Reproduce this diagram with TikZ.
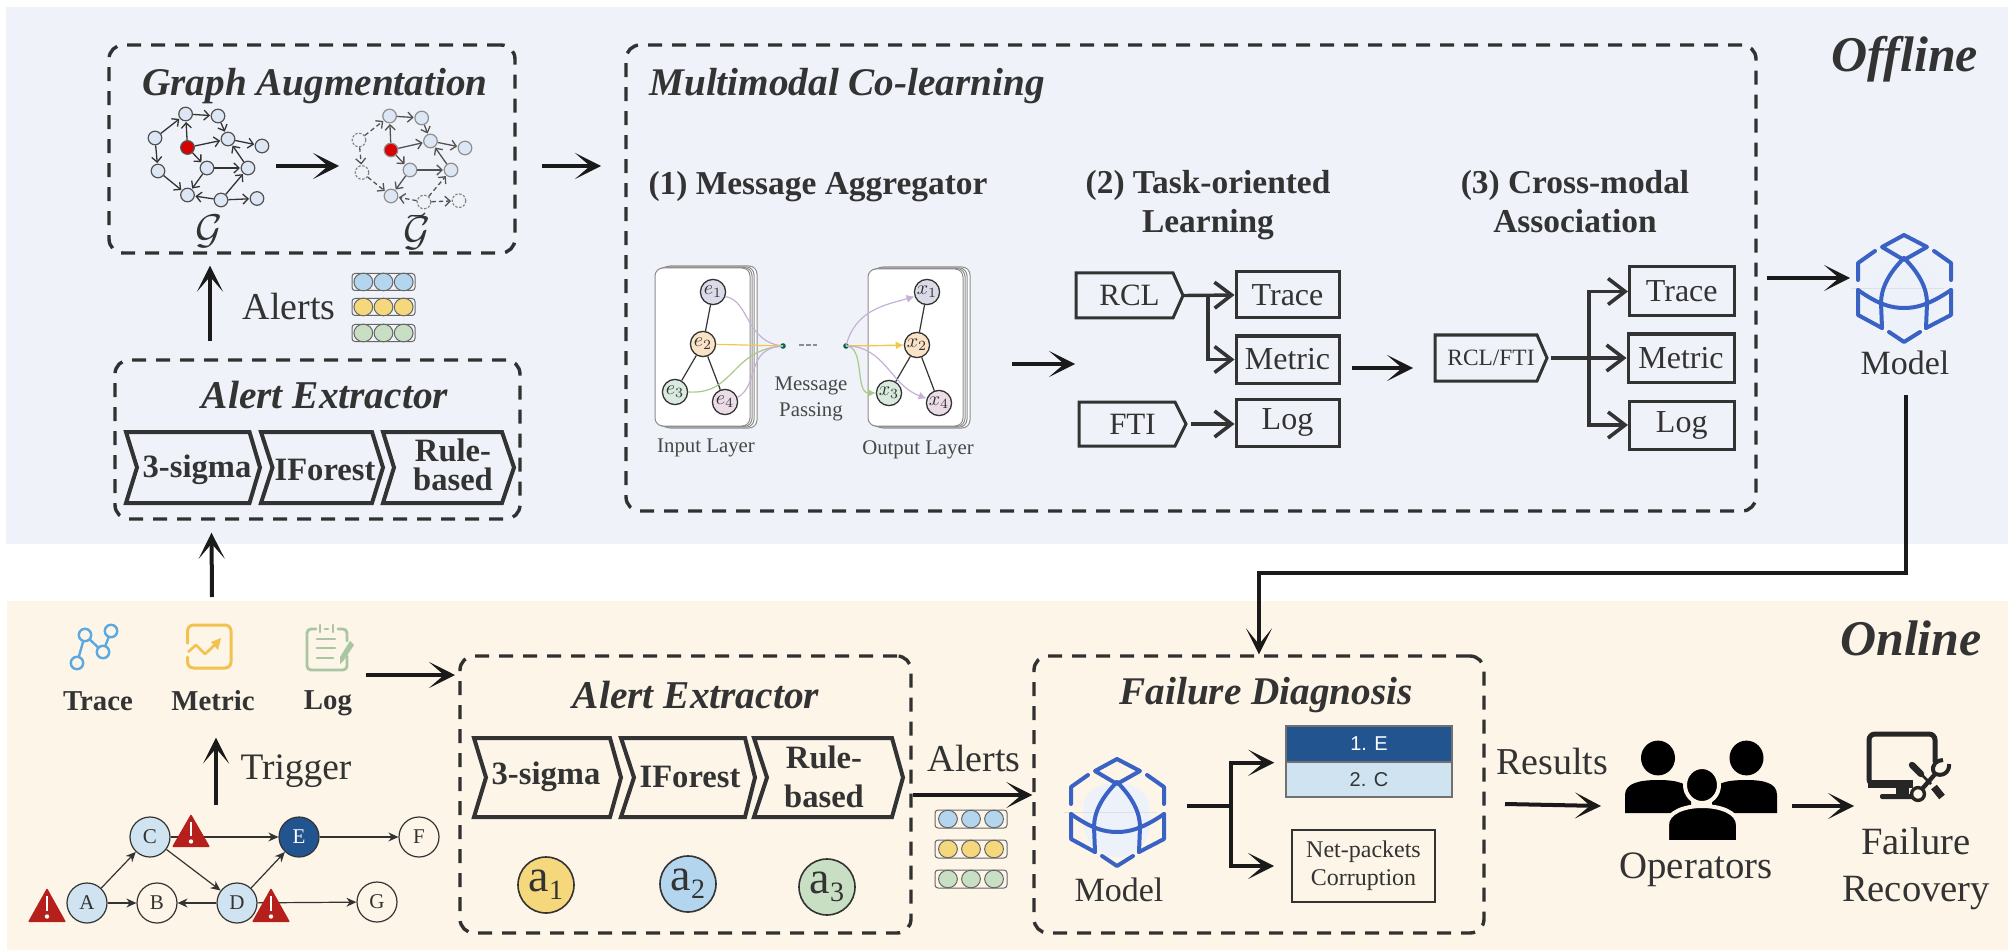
\documentclass[tikz,border=0pt]{standalone}
\usepackage{fontspec}
\setmainfont{Liberation Serif}
\setsansfont{Liberation Sans}
\usetikzlibrary{arrows.meta,fit,calc}
\definecolor{offbg}{HTML}{EFF3F9}
\definecolor{onbg}{HTML}{FDF5E8}
\definecolor{ink}{HTML}{333333}
\definecolor{blk}{HTML}{1A1A1A}
\definecolor{iconblue}{HTML}{3A62C4}
\definecolor{alblue}{HTML}{B3D6EE}
\definecolor{alyel}{HTML}{F6D87C}
\definecolor{algrn}{HTML}{C8DFC4}
\definecolor{redtri}{HTML}{B5201C}
\definecolor{navy}{HTML}{22548F}
\definecolor{pal}{HTML}{D0E3F0}
\definecolor{cpur}{HTML}{C8AFD5}
\definecolor{cyel}{HTML}{F0C84A}
\definecolor{cgrn}{HTML}{A8C98A}
\definecolor{icontrace}{HTML}{5BA9E0}
\definecolor{iconyel}{HTML}{F2C14E}
\definecolor{icongrn}{HTML}{A8C6A2}
\definecolor{monk}{HTML}{262626}
\definecolor{gfill}{HTML}{DCE6F4}
\definecolor{eone}{HTML}{DADAE8}
\definecolor{etwo}{HTML}{FBE3C8}
\definecolor{ethree}{HTML}{D9EBDF}
\definecolor{efour}{HTML}{ECDCE8}
\newcommand{\fsz}[1]{\fontsize{#1}{#1}\selectfont}
\tikzset{
  x=0.5pt,y=-0.5pt,
  every node/.style={text=ink},
  dbox/.style={draw=blk!90,line width=1.7pt,dash pattern=on 7pt off 5pt,rounded corners=7pt,inner sep=0pt},
  titletext/.style={font=\bfseries\itshape\fsz{19.6},inner sep=0pt},
  boldtext/.style={font=\bfseries\fsz{16.7},inner sep=0pt,align=center},
  plain/.style={inner sep=0pt,align=center},
  tbox/.style={draw=ink,line width=1.5pt,inner sep=0pt},
  pentline/.style={draw=ink,line width=1.5pt,line join=miter},
  chevline/.style={draw=ink,line width=2pt,line join=miter},
  chevtext/.style={font=\bfseries\fsz{16.3},inner sep=0pt,align=center},
  bigarrow/.style={blk,line width=2pt,-{Stealth[length=13pt,width=13pt,inset=7.5pt]}},
  thinbig/.style={blk,line width=1.7pt,-{Stealth[length=13pt,width=13pt,inset=8pt]}},
  barb/.style={ink,line width=1.7pt,-{Straight Barb[length=8.5pt,width=13pt,line width=1.8pt]}},
  gnode/.style={circle,draw=ink!85,fill=#1,line width=0.6pt,minimum size=6.8pt,inner sep=0pt},
  gtip/.style={draw=ink,line width=0.65pt,-{Straight Barb[length=2.6pt,width=5pt,line width=0.65pt]},shorten >=0.3pt},
  mnode/.style={circle,draw=ink,fill=#1,line width=0.65pt,minimum size=12.6pt,inner sep=0pt,font=\fsz{10}},
  snode/.style={circle,draw=ink,fill=#1,line width=0.6pt,minimum size=20pt,inner sep=0pt,font=\fsz{10.5}},
  stip/.style={draw=ink,line width=0.6pt,-{Stealth[length=5pt,width=4.5pt]}},
  modelpic/.pic={
    \fill[iconblue!9,rounded corners=8pt] (-34,-20) -- (0,-32) -- (32,-20) -- (33,30) -- (0,50) -- (-33,30) -- cycle;
    \draw[black!12,line width=0.4pt] (-53,0) -- (40,0);
    \begin{scope}[iconblue,line width=2pt,line cap=round,line join=round]
      \draw (0,-53) -- (23,-41) -- (0,-28) -- (-22,-41) -- cycle;
      \draw (0,-30) .. controls (-15,-15) and (-23,0) .. (-23,15) -- (-22,40);
      \draw (0,-30) .. controls (15,-15) and (23,0) .. (23,15) -- (22,40);
      \draw (-46,2) .. controls (-25,17) and (-12,20) .. (0,20) .. controls (12,20) and (25,17) .. (47,2);
      \draw (-46,2) -- (-46,27) -- (-22,40);
      \draw (47,2) -- (47,27) -- (22,40);
      \draw (-29,-37) -- (-46,-25) -- (-46,-8);
      \draw (30,-37) -- (47,-25) -- (47,-8);
      \draw (-15,44) -- (0,54) -- (16,44);
    \end{scope}
  }
}
% chevron: name xl notch rtop tip y1 y2 cx cy text
\newcommand{\chev}[9]{%
  \draw[chevline] (#2,#6) -- (#4,#6) -- (#5,{(#6+#7)/2}) -- (#4,#7) -- (#2,#7) -- (#3,{(#6+#7)/2}) -- cycle;
  \node[chevtext] (#1) at (#8,#9)}
% pentagon: name x1 shoulder tip y1 y2 fontsize text
\newcommand{\pent}[8]{%
  \draw[pentline] (#2,#5) -- (#3,#5) -- (#4,{(#5+#6)/2}) -- (#3,#6) -- (#2,#6) -- cycle;
  \node[fit={(#2,#5)(#4,#6)},inner sep=0pt] (#1) {};
  \node[plain,font=\fsz{#7}] (#1t) at (#1.center) {#8};}
% box with centred text: name x1 y1 x2 y2 text
\newcommand{\lbox}[6]{%
  \node[tbox,fit={(#2,#3)(#4,#5)}] (#1) {};
  \node[plain,font=\fsz{16}] (#1t) at (#1.center) {#6};}
% alert stack: xl xr y1 y2 y3 h
\newcommand{\alertstack}[6]{%
  \foreach \yy/\cc in {#3/alblue,#4/alyel,#5/algrn}{
    \draw[black!60,line width=0.5pt,rounded corners=1.5pt] (#1,\yy-#6/2) rectangle (#2,\yy+#6/2);
    \foreach \ff in {0.18,0.5,0.82}{
      \draw[black!60,fill=\cc,line width=0.5pt] ({#1+\ff*(#2-#1)},\yy) ellipse (4.7pt and 4.4pt);
    }
  }}
\newcommand{\warn}[3]{%
  \fill[redtri,rounded corners=0.5pt] (#1,#2) -- (#1+19,#3) -- (#1-19,#3) -- cycle;
  \draw[white,line width=1.1pt] (#1,#2+8) -- (#1,#3-11);
  \fill[white] (#1,#3-5.5) circle (1.1pt);}
\begin{document}
\begin{tikzpicture}
\useasboundingbox (0,0) rectangle (2008,952);
\fill[white] (0,0) rectangle (2008,952);
\fill[offbg] (6,7) rectangle (2008,544);
\fill[onbg] (7,601) rectangle (2008,950);

% ---------- labels
\node[font=\bfseries\itshape\fsz{25},inner sep=0pt] (offl) at (1905,59) {Offline};
\node[font=\bfseries\itshape\fsz{25},inner sep=0pt] (onl) at (1911,638) {Online};

% ---------- Graph Augmentation
\node[dbox,fit={(109,45)(515,253)}] (ga) {};
\node[titletext] (gat) at (315,86) {Graph Augmentation};
\foreach \n/\x/\y in {1/185.6/114,2/218/116,3/155/138,4/228/139,5/262/146,6/207/168,7/248/168,8/158/171,9/187.5/195,10/221/200,11/257/198.5}
  \node[gnode=gfill] (g\n) at (\x,\y) {};
\node[gnode=red!85!black] (gr) at (187.5,147.5) {};
\foreach \a/\b in {g3/g1,g1/g2,g2/g4,gr/g1,gr/g4,gr/g6,g4/g5,g7/g4,g6/g7,g6/g9,g3/g8,g8/g9,g10/g9,g10/g11,g10/g7}
  \draw[gtip] (\a) -- (\b);
\node[font=\fsz{21}] (gl) at (209,231) {$\mathcal{G}$};
% augmented
\foreach \n/\x/\y in {1/389.6/116,2/421.7/118,4/430.5/141,5/465/148,6/410/170,7/451/170,9/391/196}
  \node[gnode=gfill,draw=ink!55] (t\n) at (\x,\y) {};
\foreach \n/\x/\y in {3/359/140,8/362/172.5,10/424/202,11/459/200.7}
  \node[gnode=offbg,draw=ink!60,dash pattern=on 1.2pt off 0.8pt] (t\n) at (\x,\y) {};
\node[gnode=red!85!black,draw=ink!55] (tr) at (391,150) {};
\foreach \a/\b in {t1/t2,t2/t4,tr/t1,tr/t4,tr/t6,t4/t5,t7/t4,t6/t7,t6/t9}
  \draw[gtip,draw=ink!85] (\a) -- (\b);
\foreach \a/\b in {t3/t1,t3/t8,t8/t9,t10/t9,t10/t11,t10/t7}
  \draw[gtip,draw=ink!85,dash pattern=on 2.2pt off 1.5pt] (\a) -- (\b);
\node[font=\fsz{21}] (tl) at (417,233) {$\mathcal{G}$};
\draw[ink,line width=0.7pt] (408,218) .. controls (412,212) and (420,220) .. (425,213);
\coordinate (gs) at (276,166);
\coordinate (ge) at (339,166);
\draw[bigarrow] (gs) -- (ge);

% ---------- Alert extractor offline
\node[dbox,fit={(115,360)(520,519)}] (ae) {};
\node[titletext,font=\bfseries\itshape\fsz{19.7}] (aet) at (325,395) {Alert Extractor};
\chev{ca}{126}{137}{249.5}{260}{432}{503}{197}{470}{3-sigma};
\chev{cb}{261}{272.5}{372}{383}{432}{503}{325}{470}{IForest};
\chev{cc}{383}{394}{502}{514}{432}{503}{453}{465}{Rule-\\[-2pt]based};
\node[plain,font=\fsz{19}] (alo) at (289,307) {Alerts};
\alertstack{352}{415}{282}{307}{333}{17}
\coordinate (aup) at (210,341);
\draw[bigarrow] (aup) -- ([xshift=-51pt,yshift=-5.5pt]ga.south);
\coordinate (iup) at (212,597);
\draw[bigarrow] (iup) -- ([xshift=-53pt,yshift=-6pt]ae.south);

% ---------- Multimodal
\node[dbox,fit={(626,45)(1756,511)}] (mc) {};
\node[titletext,anchor=west] (mct) at (649,86) {Multimodal Co-learning};
\coordinate (gaout) at (541.5,166);
\coordinate (mcin) at (601,166);
\draw[bigarrow] (gaout) -- (mcin);
\node[boldtext] (h1) at (818,187) {(1) Message Aggregator};
\node[boldtext] (h2) at (1208,205) {(2) Task-oriented\\[2.5pt]Learning};
\node[boldtext] (h3) at (1575,205) {(3) Cross-modal\\[2.5pt]Association\vphantom{g}};

% cards
\foreach \dx/\dy in {7/-2,4/-1.2,2/-0.5}{
  \draw[black!45,fill=white,line width=0.5pt,rounded corners=4pt] (655+\dx,268+\dy) rectangle (750+\dx,426-\dy);
  \draw[black!45,fill=white,line width=0.5pt,rounded corners=4pt] (868+\dx,269+\dy) rectangle (963+\dx,426-\dy);
}
\node[fit={(655,268)(750,426)},draw=black!45,fill=white,line width=0.5pt,rounded corners=4pt,inner sep=0pt] (c1) {};
\node[fit={(868,269)(963,426)},draw=black!45,fill=white,line width=0.5pt,rounded corners=4pt,inner sep=0pt] (c2) {};
\fill[black!60!blue!60!green] (783,346) circle (1.4pt) coordinate (dl);
\fill[black!60!blue!60!green] (846,346) circle (1.4pt) coordinate (dr);
\node[mnode=eone] (e1) at (713,292) {$e_1$};
\node[mnode=etwo] (e2) at (703,344) {$e_2$};
\node[mnode=ethree] (e3) at (675,392) {$e_3$};
\node[mnode=efour] (e4) at (725,402) {$e_4$};
\node[mnode=eone] (x1) at (927,292) {$x_1$};
\node[mnode=etwo] (x2) at (917,345) {$x_2$};
\node[mnode=ethree] (x3) at (889,393) {$x_3$};
\node[mnode=efour] (x4) at (939,403) {$x_4$};
\foreach \a/\b in {e1/e2,e2/e3,e2/e4,x1/x2,x2/x3,x2/x4}
  \draw[ink,line width=0.6pt] (\a) -- (\b);
\draw[cpur,line width=0.6pt] (e1.-20) .. controls (750,301) and (745,342) .. (dl);
\draw[cyel,line width=0.6pt] (e2) -- (dl);
\draw[cgrn,line width=0.6pt] (e3.east) .. controls (735,395) and (730,350) .. (dl);
\draw[cpur,line width=0.6pt] (e4.20) .. controls (760,385) and (745,348) .. (dl);
\draw[black!45,line width=0.6pt,dash pattern=on 2.5pt off 1pt] (799,345) -- (817,345);
\draw[cpur,line width=0.6pt,-{Latex[length=4pt,width=4pt]}] (dr) .. controls (855,310) and (885,305) .. (x1.-160);
\draw[cyel,line width=0.7pt,-{Latex[length=4pt,width=4pt]}] (dr) -- (x2);
\draw[cgrn,line width=0.6pt,-{Latex[length=4pt,width=4pt]}] (dr) .. controls (865,346) and (855,393) .. (x3.west);
\draw[cpur,line width=0.6pt,-{Latex[length=4pt,width=4pt]}] (dr) .. controls (885,346) and (890,385) .. (x4.160);
\node[plain,font=\fsz{10.4},text=ink!90] (mp) at (811,399) {Message\\[3pt]Passing};
\node[plain,font=\fsz{10.4},text=ink!90] (il) at (706,448) {Input Layer};
\node[plain,font=\fsz{10.4},text=ink!90] (ol) at (918,450) {Output Layer};

% task-oriented
\coordinate (ma) at (1012,364);
\coordinate (mb) at (1075,364);
\draw[bigarrow] (ma) -- (mb);
\pent{rcl}{1076}{1173}{1183}{273}{318}{15.5}{RCL}
\pent{fti}{1079}{1175}{1186}{402}{446}{15.5}{FTI}
\lbox{tr1}{1236}{272}{1339}{318}{Trace}
\lbox{me1}{1236}{336}{1339}{383}{Metric}
\lbox{lg1}{1236}{399}{1339}{446}{Log}
\coordinate (j1) at (1208,295);
\draw[barb] (rcl.east) -- (tr1.west);
\draw[barb] (j1) |- (me1.west);
\draw[barb] ([xshift=2.5pt]fti.east) -- (fti.east -| lg1.west);
% cross modal
\coordinate (mc1) at (1352,368);
\coordinate (mc2) at (1413,368);
\draw[bigarrow] (mc1) -- (mc2);
\pent{rf}{1435}{1537}{1547}{335}{381}{11.7}{RCL/FTI}
\lbox{tr2}{1629.5}{267}{1734}{316}{Trace}
\lbox{me2}{1628}{334}{1734}{382}{Metric}
\lbox{lg2}{1629.5}{401}{1734}{449}{Log}
\coordinate (j2) at (1589,358);
\draw[barb] ([xshift=2pt]rf.east) -- (rf.east -| me2.west);
\draw[barb] (j2) |- (tr2.west);
\draw[barb] (j2) |- (lg2.west);

% model offline
\pic (m1) at (1904,288) {modelpic};
\node[plain,font=\fsz{17}] (ml1) at (1905,363) {Model};
\coordinate (mo1) at (1767,278);
\coordinate (mo2) at (1850,278);
\draw[bigarrow] (mo1) -- (mo2);

% ---------- Online inputs
\begin{scope}[line width=1.2pt]
  \draw[draw=icontrace] (77,663) -- (85,635) -- (103,652) -- (111,631);
  \foreach \p in {(77,663),(85,635),(103,652),(111,631)}
    \draw[draw=icontrace,fill=onbg] \p circle (3.1pt);
\end{scope}
\draw[iconyel,line width=1.5pt,line cap=round,rounded corners=3pt] (187.5,643) -- (187.5,625) -- (231,625) -- (231,668) -- (187.5,668) -- (187.5,657);
\draw[iconyel,line width=1.3pt,line join=round] (188,652) -- (196,645) -- (205,654) -- (219,641);
\fill[iconyel] (221,638) -- (218,650) -- (211,642) -- cycle;
\draw[icongrn,line width=1.4pt,line cap=round,rounded corners=2pt] (316,629) -- (307,629) -- (307,670) -- (347,670) -- (347,656);
\draw[icongrn,line width=1.4pt,line cap=round,rounded corners=2pt] (347,641) -- (347,629) -- (338,629);
\draw[icongrn,line width=1.3pt,line cap=round] (320,625) -- (320,632) (333,625) -- (333,632) (325,629) -- (328,629);
\draw[icongrn,line width=1.4pt,line cap=round] (317,639) -- (335,639) (317,648) -- (335,648) (317,658) -- (333,658);
\fill[icongrn] (350,641) -- (354,645) -- (344,660) -- (340,664) -- (340,657) -- cycle;
\node[plain,font=\bfseries\fsz{14.4}] (tlab) at (98,701) {Trace};
\node[plain,font=\bfseries\fsz{14.4}] (mlab) at (213,701) {Metric};
\node[plain,font=\bfseries\fsz{14.4}] (llab) at (328,703) {Log};
\coordinate (trigs) at (216,805);
\draw[bigarrow] (trigs) -- ([yshift=-13pt]mlab.south -| trigs);
\node[plain,font=\fsz{18.7}] (trig) at (296,771) {Trigger};
\coordinate (ls) at (366,675);
\coordinate (le) at (455,675);
\draw[bigarrow] (ls) -- (le);

% service graph
\node[snode=pal] (A) at (87,903) {A};
\node[snode=onbg] (B) at (157,903) {B};
\node[snode=pal] (C) at (150,837) {C};
\node[snode=pal] (D) at (237,903) {D};
\node[snode=navy,text=white] (E) at (299,837) {E};
\node[snode=onbg] (F) at (419,837) {F};
\node[snode=onbg] (G) at (377,902) {G};
\foreach \a/\b in {A/C,A/B,D/B,C/D,C/E,E/F,D/E,D/G}
  \draw[stip] (\a) -- (\b);
\warn{47}{888}{922}
\warn{191}{814}{847}
\warn{271}{888}{922}

% ---------- Alert extractor online
\node[dbox,fit={(460,656)(911,933)}] (ae2) {};
\node[titletext,font=\bfseries\itshape\fsz{19.7}] (ae2t) at (696,695) {Alert Extractor};
\chev{da}{474}{486}{610}{621}{738}{817}{546}{777}{3-sigma};
\chev{db}{621}{634}{745}{755}{738}{817}{690}{777}{IForest};
\chev{dc}{754}{767}{892}{903}{738}{817}{824}{777}{Rule-\\[3pt]based};
\foreach \n/\x/\y/\c/\s in {1/546/885/alyel/1,2/688/884/alblue/2,3/827/887/algrn/3}
  \node[circle,draw=ink,fill=\c,line width=0.8pt,minimum size=28pt,inner sep=0pt,font=\fsz{23}] (a\n) at (\x,\y) {a\raisebox{-4pt}{\fsz{14}\s}};
\node[plain,font=\fsz{19}] (al2) at (974,758) {Alerts};
\alertstack{935}{1007}{819}{849}{879}{18}

% ---------- Failure diagnosis
\node[dbox,fit={(1034,656)(1484,933)}] (fd) {};
\node[titletext] (fdt) at (1266,695) {Failure Diagnosis};
\draw[bigarrow] (ae2.east |- 0,795) -- (fd.west |- 0,795);
\pic (m2) at (1117,812) {modelpic};
\node[plain,font=\fsz{17}] (ml2) at (1119,890) {Model};
\node[fit={(1286,726)(1452,762)},draw=ink!70,fill=navy,line width=0.7pt,inner sep=0pt] (r1) {};
\node[plain,text=white,font=\sffamily\fsz{10}] (r1t) at (r1.center) {1. E};
\node[fit={(1286,762)(1452,797)},draw=ink!70,fill=pal,line width=0.7pt,inner sep=0pt] (r2) {};
\node[plain,font=\sffamily\fsz{10}] (r2t) at (r2.center) {2. C};
\node[fit={(1292,830)(1435,902)},draw=ink,line width=1pt,inner sep=0pt] (np) {};
\node[plain,font=\fsz{12}] (npt) at (np.center) {Net-packets\\[2pt]Corruption};
\coordinate (fo) at (1187,806);
\coordinate (fj) at (1231,806);
\draw[blk,line width=2pt] (fo) -- (fj);
\draw[bigarrow,line width=1.8pt] (fj) |- ([xshift=-5.5pt]r1.south west);
\draw[bigarrow,line width=1.8pt] (fj) |- ([xshift=-8.5pt]np.west);

% model -> failure diagnosis
\coordinate (mdn) at (1906,395);
\coordinate (mbend) at (1906,573);
\draw[thinbig] (mdn) -- (mbend) -| (fd.north);

% ---------- Results
\node[plain,font=\fsz{19}] (res) at (1552,761) {Results};
\coordinate (rs) at (1505,804);
\coordinate (re) at (1601,806);
\draw[bigarrow] (rs) -- (re);
% operators
\begin{scope}[black]
  \fill (1658,758) ellipse (8.5pt and 8.7pt);
  \fill (1746.5,758) ellipse (8.5pt and 8.7pt);
  \fill (1625,813) -- (1625,795) .. controls (1625,783) and (1640,780) .. (1658,780) .. controls (1676,780) and (1691,783) .. (1691,795) -- (1691,813) -- cycle;
  \fill (1712,813) -- (1712,795) .. controls (1712,783) and (1727,780) .. (1746,780) .. controls (1764,780) and (1777,783) .. (1777,795) -- (1777,813) -- cycle;
  \draw[onbg,line width=2pt,fill=black] (1702,785) ellipse (8.5pt and 9pt);
  \draw[onbg,line width=2pt,fill=black] (1667,842) -- (1667,825) .. controls (1667,812) and (1685,806) .. (1702,806) .. controls (1720,806) and (1738,812) .. (1738,825) -- (1738,842) -- cycle;
\end{scope}
\node[plain,font=\fsz{19.4}] (ops) at (1696,870) {Operators};
\coordinate (os) at (1792,806);
\coordinate (oe) at (1854,806);
\draw[bigarrow] (os) -- (oe);
% monitor + tools
\draw[monk,line width=2.5pt,rounded corners=3pt] (1910,785) -- (1869,785) -- (1869,734) -- (1935,734) -- (1935,762);
\fill[monk] (1868,780) rectangle (1913,788);
\fill[monk] (1896,786) rectangle (1909,796);
\fill[monk,rounded corners=1pt] (1880,794) rectangle (1914,799);
\draw[onbg,line width=1.8pt] (1906,765) -- (1930,790);
\draw[monk,line width=3.2pt,line cap=round] (1912,765) -- (1921,774);
\draw[monk,line width=1.4pt] (1921,774) -- (1931,784);
\draw[monk,line width=1.7pt,fill=onbg] (1918,794) circle (3.2pt);
\draw[monk,line width=2.2pt] (1922,789) -- (1936,773);
\draw[monk,line width=2pt] (1934,773) .. controls (1930,764) and (1938,760) .. (1943,760);
\draw[monk,line width=2pt] (1934,773) .. controls (1942,778) and (1950,772) .. (1949,764);
\draw[monk,line width=3.6pt] (1934,787) -- (1942,797);
\node[plain,font=\fsz{19.3}] (fr) at (1916,869) {Failure\\[4pt]Recovery};
\end{tikzpicture}
\end{document}
